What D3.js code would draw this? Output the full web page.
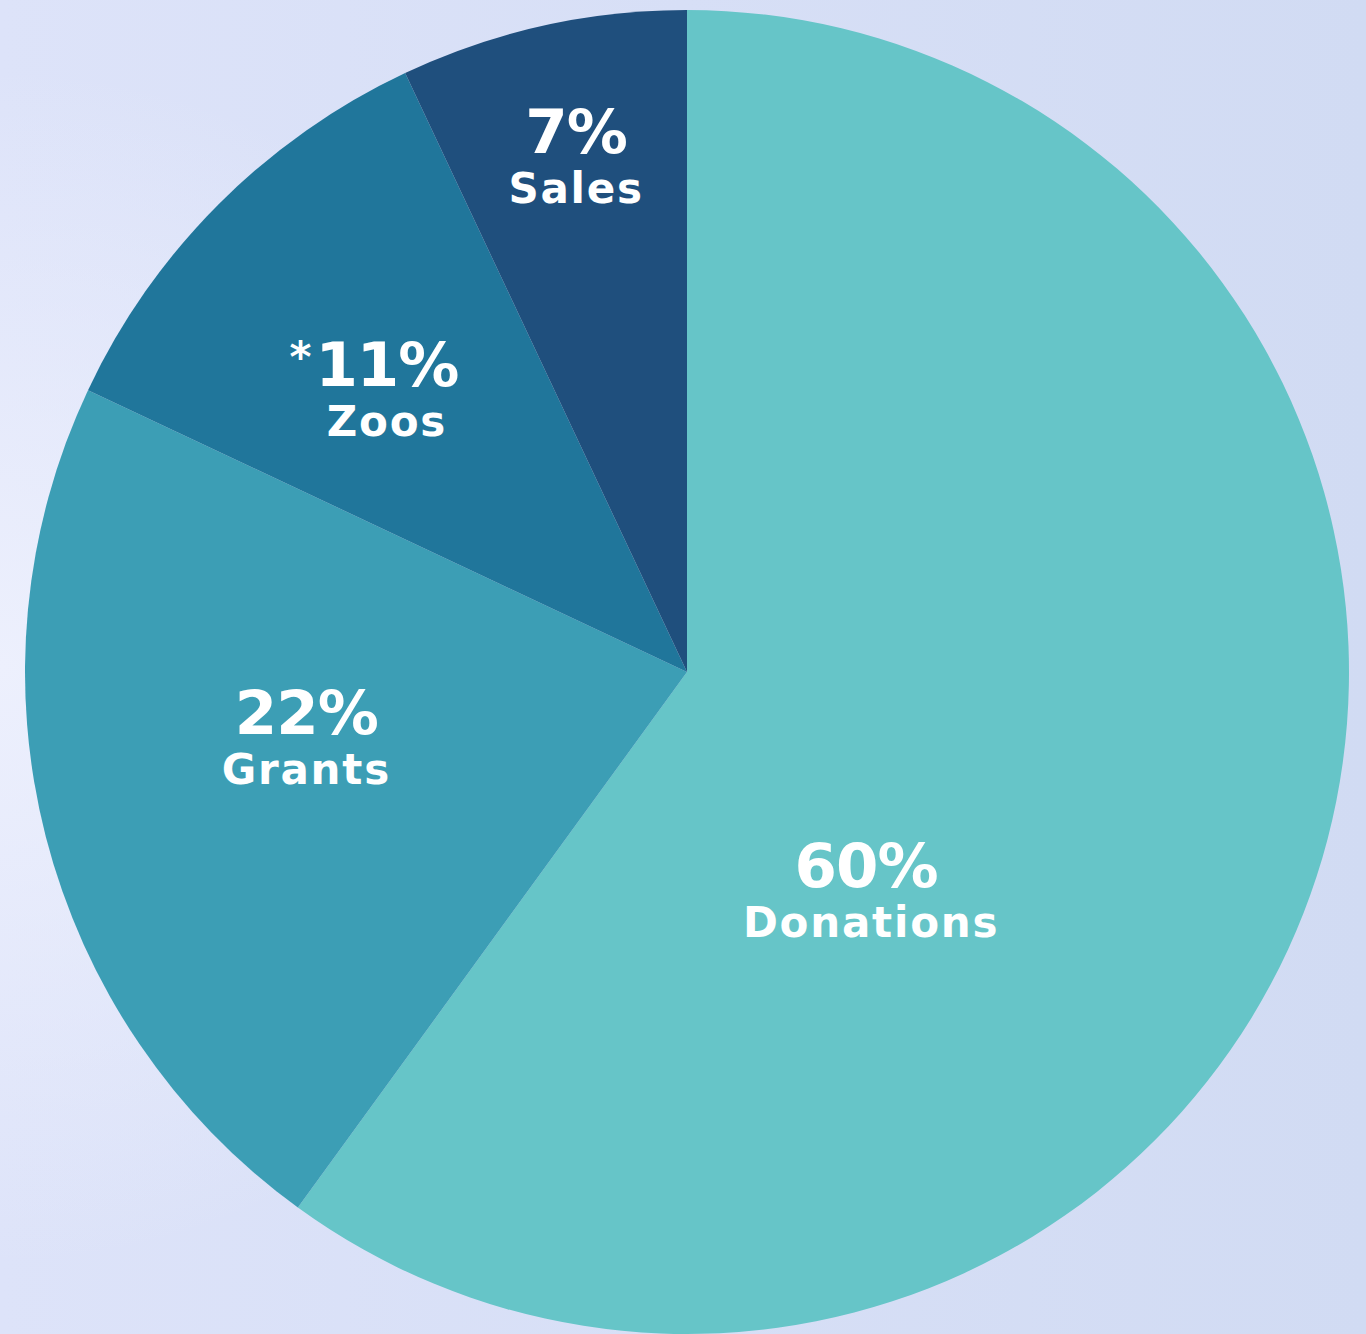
<!DOCTYPE html>
<html>
<head>
<meta charset="utf-8">
<script src="https://cdn.jsdelivr.net/npm/d3@7.9.0/dist/d3.min.js"></script>
<style>
  html, body { margin: 0; padding: 0; }
  body { width: 1366px; height: 1334px; overflow: hidden; }
  svg { display: block; }
  text { font-family: "DejaVu Sans", "Open Sans", sans-serif; font-weight: bold; fill: #fff; }
</style>
</head>
<body>
<div id="chart"></div>
<script>
// chart values
const categories = ['Donations', 'Grants', 'Zoos', 'Sales'];
const shares = [60, 22, 11, 7];
const colors = ['#66c5c8', '#3c9eb5', '#20769b', '#1f4f7d'];
const marks = ['', '', '*', ''];

const width = 1366;
const height = 1334;
const cx = 687, cy = 672, radius = 662;

// where each label block sits: [angle in degrees clockwise from top, distance from centre]
const labelAt = [[140.4, 281], [260.5, 386], [313.4, 413], [347.9, 529]];

const svg = d3.select('#chart')
  .append('svg')
  .attr('width', width)
  .attr('height', height);

const defs = svg.append('defs');
const bg = defs.append('linearGradient')
  .attr('id', 'bg')
  .attr('x1', '0').attr('y1', '0.5').attr('x2', '1').attr('y2', '0.5');
bg.append('stop').attr('offset', '0%').attr('stop-color', '#dde3f9');
bg.append('stop').attr('offset', '100%').attr('stop-color', '#d1dbf3');

const glow = defs.append('radialGradient')
  .attr('id', 'glow')
  .attr('cx', '0').attr('cy', '0.5').attr('r', '0.45');
glow.append('stop').attr('offset', '0%').attr('stop-color', '#edf0fd').attr('stop-opacity', 1);
glow.append('stop').attr('offset', '100%').attr('stop-color', '#edf0fd').attr('stop-opacity', 0);

svg.append('rect').attr('width', width).attr('height', height).attr('fill', 'url(#bg)');
svg.append('rect').attr('width', width).attr('height', height).attr('fill', 'url(#glow)');

const pie = d3.pie().sort(null).value((d) => d);
const arc = d3.arc().innerRadius(0).outerRadius(radius);
const arcs = pie(shares);

const g = svg.append('g').attr('transform', `translate(${cx}, ${cy})`);

g.selectAll('path')
  .data(arcs)
  .join('path')
  .attr('d', arc)
  .attr('fill', (d, i) => colors[i]);

const labels = g.selectAll('g.label')
  .data(arcs)
  .join('g')
  .attr('class', 'label')
  .attr('transform', (d, i) => {
    const a = labelAt[i][0] * Math.PI / 180;
    const r = labelAt[i][1];
    return `translate(${r * Math.sin(a)}, ${-r * Math.cos(a)})`;
  });

labels.append('text')
  .attr('class', 'pct')
  .attr('text-anchor', 'middle')
  .attr('y', -2)
  .attr('font-size', 61)
  .attr('letter-spacing', -1)
  .text((d, i) => shares[i] + '%');

labels.append('text')
  .attr('text-anchor', 'middle')
  .attr('x', (d, i) => i === 0 ? 5 : 0)
  .attr('y', 48)
  .attr('font-size', 42)
  .attr('letter-spacing', 1.8)
  .text((d, i) => categories[i]);

// asterisk just left of the percentage
labels.each(function (d, i) {
  if (!marks[i]) return;
  const grp = d3.select(this);
  const box = grp.select('text.pct').node().getBBox();
  grp.append('text')
    .attr('text-anchor', 'end')
    .attr('x', box.x - 4)
    .attr('y', -16)
    .attr('font-size', 42)
    .text(marks[i]);
});
</script>
</body>
</html>
